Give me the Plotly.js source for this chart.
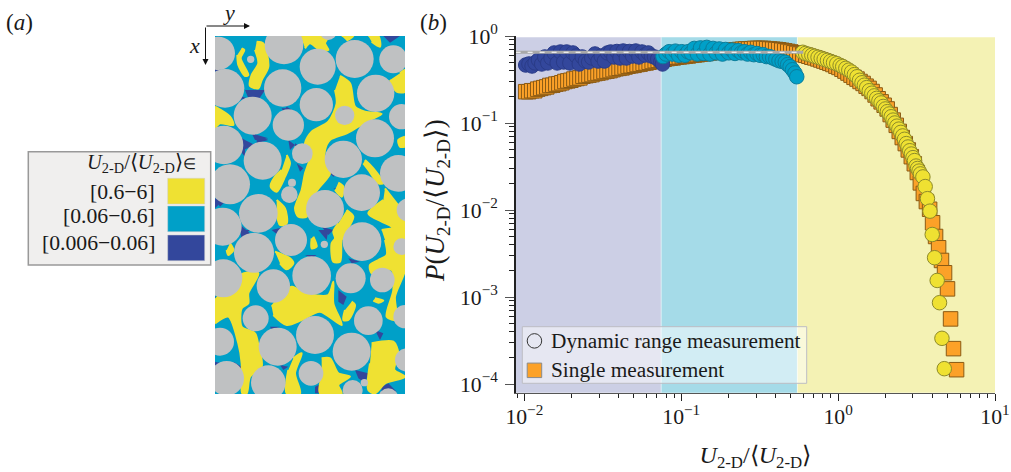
<!DOCTYPE html>
<html><head><meta charset="utf-8">
<script src="https://cdn.plot.ly/plotly-3.0.1.min.js"></script>
<style>html,body{margin:0;padding:0;background:#fff}</style></head>
<body><div id="chart" style="width:1011px;height:472px"></div>
<script>
// ---------- panel (b) data ----------
const xSingle=[.0102,.01066,.01114,.01165,.01217,.01272,.0133,.0139,.01453,.01518,
.01587,.01659,.01734,.01812,.01894,.0198,.02069,.02163,.02261,.02363,
.0247,.02581,.02698,.0282,.02947,.0308,.03219,.03365,.03517,.03676,
.03842,.04016,.04197,.04387,.04585,.04792,.05009,.05235,.05472,.05719,
.05978,.06248,.0653,.06825,.07134,.07456,.07793,.08146,.08514,.08899,
.09301,.09721,.1016,.1062,.111,.116,.1213,.1267,.1325,.1385,
.1447,.1513,.1581,.1652,.1727,.1805,.1887,.1972,.2061,.2155,
.2252,.2354,.246,.2571,.2688,.2809,.2936,.3069,.3208,.3353,
.3504,.3663,.3828,.4001,.4182,.4371,.4569,.4775,.4991,.5217,
.5453,.5699,.5957,.6226,.6507,.6801,.7109,.743,.7766,.8117,
.8484,.8868,.9269,.9688,1.0126,1.058,1.106,1.156,1.209,1.263,
1.32,1.38,1.443,1.508,1.576,1.647,1.722,1.8,1.881,1.966,
2.055,2.148,2.245,2.347,2.453,2.564,2.68,2.801,2.928,3.06,
3.198,3.343,3.494,3.652,3.83,4.0,4.18,4.37,4.56,4.77,
4.98,5.21,5.44,5.69];
const ySingle=[.229,.229,.235,.235,.245,.25,.255,.26,.27,.272,
.28,.283,.29,.30,.305,.31,.32,.325,.33,.345,
.35,.355,.36,.37,.375,.38,.39,.395,.40,.41,
.42,.425,.43,.44,.45,.455,.46,.47,.475,.485,
.49,.50,.51,.52,.525,.535,.54,.55,.555,.56,
.57,.575,.58,.585,.59,.60,.605,.61,.62,.625,
.63,.64,.645,.65,.66,.665,.67,.675,.68,.69,
.695,.70,.705,.71,.71,.715,.72,.72,.72,.72,
.715,.71,.705,.70,.695,.685,.675,.665,.655,.64,
.63,.62,.61,.60,.585,.57,.56,.545,.53,.515,
.50,.485,.47,.45,.435,.415,.395,.375,.355,.335,
.32,.30,.285,.265,.25,.23,.21,.19,.175,.16,
.145,.125,.108,.094,.08,.068,.058,.049,.041,.034,
.027,.0205,.0155,.0125,.0102,.00713,.00496,.00368,.00263,.0019,
.00124,.00056,.000255,.000146];
const xLow=[.0102,.0107,.0112,.0117,.0123,.0129,.0135,.0141,.0148,.0155,
.0162,.0170,.0178,.0186,.0195,.0204,.0214,.0224,.0234,.0245,
.0257,.0269,.0282,.0295,.0309,.0324,.0339,.0355,.0372,.0389,
.0407,.0427,.0447,.0468,.0490,.0513,.0537,.0562,.0589,.0617,
.0646,.0676,.0708,.0741,.0760];
const yLow=[.464,.477,.452,.490,.530,.477,.574,.490,.559,.638,
.490,.655,.503,.655,.490,.638,.589,.477,.574,.516,
.503,.559,.621,.516,.589,.516,.638,.655,.574,.664,
.559,.672,.559,.664,.589,.672,.574,.655,.605,.638,
.589,.574,.544,.503,.477];
const xMid=[.0765,.0800,.0838,.0877,.0919,.0962,.1007,.1054,.1104,.1156,
.1211,.1268,.1327,.1390,.1455,.1524,.1596,.1671,.1749,.1832,
.1918,.2009,.2103,.2202,.2306,.2415,.2529,.2648,.2773,.2904,
.3040,.3184,.3334,.3491,.3656,.3828,.4009,.4198,.4396,.4603,
.4770,.4943,.5122,.5307,.5450];
const yMid=[.58,.62,.66,.62,.67,.60,.66,.60,.66,.64,
.72,.62,.73,.63,.74,.62,.72,.64,.71,.62,
.70,.64,.69,.63,.68,.64,.66,.62,.65,.61,
.63,.60,.61,.58,.58,.56,.54,.52,.51,.50,
.47,.445,.41,.375,.34];
const xHigh=[.595,.62,.65,.68,.71,.745,.78,.815,.855,.895,
.935,.98,1.03,1.07,1.12,1.17,1.22,1.27,1.32,1.37,
1.42,1.47,1.52,1.58,1.64,1.70,1.76,1.82,1.88,1.94,
2.0,2.06,2.12,2.18,2.24,2.30,2.37,2.44,2.51,2.58,
2.65,2.72,2.79,2.86,2.93,3.0,3.07,3.14,3.21,3.28,
3.35,3.47,3.59,3.71,3.85,3.98,4.12,4.28,4.43,4.59,4.75];
const yHigh=[.65,.63,.615,.60,.585,.57,.555,.54,.525,.51,
.495,.48,.46,.445,.425,.405,.385,.36,.34,.31,
.29,.272,.255,.235,.22,.205,.192,.18,.17,.155,
.145,.135,.127,.118,.108,.10,.092,.085,.078,.071,
.065,.058,.053,.048,.044,.04,.037,.032,.03,.028,
.026,.024,.0186,.0135,.0097,.00523,.00283,.00155,.00086,.000335,.00015];
const xRef=[.0088,.6], yRef=[.65,.65];
const regionEdges=[.00881,.0745,.55,10];
const regionColours=['#cccfe5','#a5dbe8','#f4f2b4'];
const xTicks=[.01,.1,1,10], xTickText=['10<sup>−2</sup>','10<sup>−1</sup>','10<sup>0</sup>','10<sup>1</sup>'];
const yTicks=[.0001,.001,.01,.1,1], yTickText=['10<sup>−4</sup>','10<sup>−3</sup>','10<sup>−2</sup>','10<sup>−1</sup>','10<sup>0</sup>'];
const xMinor=[.009,.02,.03,.04,.05,.06,.07,.08,.09,.2,.3,.4,.5,.6,.7,.8,.9,2,3,4,5,6,7,8,9];
const yMinor=[.0002,.0003,.0004,.0005,.0006,.0007,.0008,.0009,.002,.003,.004,.005,.006,.007,.008,.009,.02,.03,.04,.05,.06,.07,.08,.09,.2,.3,.4,.5,.6,.7,.8,.9];
const legendLabels=['Dynamic range measurement','Single measurement'];
// ---------- panel (a) data (map coordinates) ----------
const grainX=[655,852,953,1064,1180,675,848,949,1127,758,865,1034,1205,1125,672,788,907,1030,1195,690,876,868,975,1085,775,1086,668,873,762,973,1205,752,985,
670,935,1052,1147,820,767,1105,945,833,1055,1215,660,1220,680,805,933,1058,1093,1165,1225];
const grainY=[160,135,200,177,178,265,264,314,280,347,375,346,350,415,435,482,461,478,520,553,548,584,627,578,640,725,680,720,758,733,740,178,95,
835,827,835,840,858,955,962,1005,1040,1055,950,1025,1080,1135,1148,1120,1170,1148,1195,630];
const grainR=[50,58,54,57,42,58,56,50,56,57,47,29,38,57,58,57,31,56,55,60,12,25,57,55,58,58,57,48,60,11,25,11,25,
57,58,45,37,50,39,43,57,57,57,35,42,35,52,52,37,30,11,30,35];
const yellowX=[770,790,805,785,775,750,755,775,765,null,725,733,722,745,735,715,712,null,
902,985,975,985,960,930,915,null,1025,1060,1040,null,1105,1135,1140,1115,null,
1020,1050,1065,1095,1145,1110,1075,1040,990,975,975,990,960,930,920,895,885,905,915,930,915,935,985,1010,1005,null,
645,690,700,660,645,null,860,870,855,830,812,825,845,null,830,855,860,840,830,null,
1095,1120,1150,1135,1105,1090,null,1155,1190,1215,1215,1195,1175,1145,1105,1150,null,
1040,1060,1035,1025,1020,1000,995,1005,1000,1015,null,1015,1030,1025,1005,null,
940,950,935,935,null,690,700,685,680,null,825,870,880,860,840,null,
645,730,775,745,745,725,725,765,775,785,750,740,727,725,715,685,645,null,
815,875,915,985,1000,1000,1025,960,905,860,820,null,1055,1065,1045,1030,1035,null,
1125,1150,1135,1120,null,1115,1180,1195,1183,1215,1155,1125,1105,1110,null,
1145,1215,1215,1185,1190,1160,1180,1175,1115,1110,1135,1160,1155,null,
965,990,1015,1050,1015,1025,960,965,null,880,905,885,900,860,865,null,
1200,1215,1215,1190,1170,null,1215,1195,1200,1215];
const yellowY=[125,130,200,240,265,258,225,190,150,null,145,150,175,225,228,195,165,null,
108,108,130,150,150,130,145,null,108,108,122,null,108,108,140,125,null,
228,250,320,335,342,360,380,400,420,450,490,520,560,600,650,650,625,570,520,470,430,395,365,310,270,null,
320,350,375,370,385,null,465,490,530,575,560,530,510,null,600,625,670,675,640,null,
480,505,550,550,510,490,null,565,610,640,700,720,680,665,640,600,null,
630,650,700,720,785,785,730,715,695,670,null,548,560,590,570,null,
710,740,745,715,null,730,750,765,750,null,755,775,790,808,790,null,
900,820,820,880,910,925,980,1000,1035,1100,1130,1180,1180,1090,1030,950,970,null,
920,860,880,885,845,910,975,935,960,975,945,null,905,915,960,960,930,null,
895,902,908,902,null,1030,1025,1060,1110,1130,1150,1180,1170,1090,null,
690,690,810,890,960,950,870,810,820,795,780,765,720,null,
1075,1075,1120,1130,1155,1180,1180,1130,null,1075,1060,1120,1180,1180,1110,null,
220,210,275,275,240,null,410,420,440,440];
const navyX=[735,795,775,745,null,770,805,770,null,700,735,735,710,null,645,660,645,null,645,665,645,null,
715,750,725,null,860,885,850,null,1150,1200,1170,null,885,900,885,null,1000,1040,1030,null,965,1000,985,null,
1015,1040,1030,1015,null,945,975,980,945,null,1065,1105,1095,1075,null,1145,1165,1190,1145,null,
810,840,815,null,700,725,715,null,645,665,645,null,840,865,850,null,915,950,935,null,725,750,735,null,
955,985,980,null,1045,1080,1055,null,1140,1170,1155,null,1125,1150,1140,null,645,675,655,null,
715,740,720,null,845,860,850,null,645,675,645,null,755,805,765,null,735,765,730,null,645,675,660,null,
865,885,870,null,890,910,900,null,985,1015,1000,null,815,855,840];
const navyY=[270,270,300,295,null,405,420,430,null,400,420,470,440,null,595,610,625,null,195,210,215,null,
670,700,715,null,320,335,335,null,108,108,128,null,430,440,445,null,565,560,575,null,680,690,705,null,
870,890,915,905,null,1160,1145,1180,1180,null,1110,1120,1150,1135,null,1160,1150,1175,1180,null,
980,980,990,null,1085,1100,1115,null,1085,1090,1100,null,1095,1100,1110,null,765,765,775,null,690,690,702,null,
690,690,720,null,775,785,790,null,775,795,810,null,990,1000,1020,null,890,895,905,null,
285,295,300,null,325,325,335,null,195,205,210,null,400,415,420,null,420,435,450,null,595,605,620,null,
420,435,450,null,490,505,515,null,515,520,530,null,690,680,710];
const mapBins=['[0.6−6]','[0.06−0.6]','[0.006−0.06]'];
const mapColours=['#efe132','#00a0c8','#33479c'];

// ---------- layout helpers ----------
const W=1011,H=472, PX=x=>x/W, PY=y=>1-y/H;
const SER='"Liberation Serif","Times New Roman",serif';
const U='<i>U</i><sub>2-D</sub>';
const LABEL=U+'/⟨'+U+'⟩';
const txt=(s,x,y,anchor,size,extra)=>Object.assign({text:s,xref:'paper',yref:'paper',x:PX(x),y:PY(y),xanchor:anchor,yanchor:'middle',showarrow:false,font:{family:SER,size:size||20,color:'#1a1a1a'}},extra||{});
const pRect=(x0,y0,x1,y1,fill,line,w)=>({type:'rect',xref:'paper',yref:'paper',x0:PX(x0),x1:PX(x1),y0:PY(y0),y1:PY(y1),fillcolor:fill,line:{color:line||fill,width:w||0},layer:'above'});

const shapes=[];
regionColours.forEach((c,i)=>shapes.push({type:'rect',xref:'x',yref:'y domain',x0:regionEdges[i],x1:regionEdges[i+1],y0:0,y1:0.9965,fillcolor:c,line:{width:0},layer:'below'}));
[1,2].forEach(i=>shapes.push({type:'line',xref:'x',yref:'y domain',x0:regionEdges[i],x1:regionEdges[i],y0:0,y1:0.9965,line:{color:'rgba(255,255,255,0.5)',width:1},layer:'below'}));
shapes.push({type:'rect',xref:'paper',yref:'paper',x0:PX(522.3),x1:PX(806.7),y0:PY(326.7),y1:PY(383.3),fillcolor:'rgba(255,255,255,0.5)',line:{color:'#bdbdc4',width:1},layer:'below'});
shapes.push({type:'rect',xref:'x2',yref:'y2',x0:645,x1:1215,y0:108,y1:1182,fillcolor:mapColours[1],line:{width:0},layer:'below'});
shapes.push(pRect(28.3,151.7,210.7,265,'#f0efee','#999999',1.5));
mapColours.forEach((c,i)=>{const t=[178.3,206,235][i];shapes.push(pRect(167.7,t,204.7,t+25.7,c,'#cfcfcf',0.5));});

const annotations=[
 txt('(<i>a</i>)',3.5,23,'left',23),
 txt('(<i>b</i>)',417.5,23,'left',23),
 txt('<i>y</i>',229,12,'center',22),
 txt('<i>x</i>',194,46,'center',22),
 txt(U+'/⟨'+U+'⟩<span style="font-size:15px">∈</span>',198,164,'right',20.5),
 txt(mapBins[0],156.7,192,'right',21.7),
 txt(mapBins[1],156.7,216,'right',21.7),
 txt(mapBins[2],156.7,243,'right',21.7),
 txt('<i>P</i>('+LABEL+')',437,201,'center',27,{textangle:-90}),
 txt(legendLabels[0],549,341,'left',21.3),
 txt(legendLabels[1],549,370,'left',21.3),
 {xref:'paper',yref:'paper',axref:'pixel',ayref:'pixel',x:PX(250),y:PY(26),ax:-45,ay:0,showarrow:true,arrowhead:2,arrowsize:1.2,arrowwidth:1,arrowcolor:'#111',text:''},
 {xref:'paper',yref:'paper',axref:'pixel',ayref:'pixel',x:PX(205.5),y:PY(65),ax:0,ay:-39,showarrow:true,arrowhead:2,arrowsize:1.2,arrowwidth:1,arrowcolor:'#111',text:''}
];

const mk=(x,y,sym,fill,line)=>({x,y,mode:'markers',type:'scatter',showlegend:false,hoverinfo:'skip',cliponaxis:false,marker:{symbol:sym,size:14.5,opacity:1,color:fill,line:{color:line,width:1}}});
const traces=[
 mk(xSingle,ySingle,'square','#fca128','#8a5a14'),
 mk(xHigh,yHigh,'circle','#efe132','#8d8a2a'),
 mk(xLow,yLow,'circle','#33479c','#2a3c88'),
 mk(xMid,yMid,'circle','#00a0c8','#0b7d9b'),
 {x:xRef,y:yRef,mode:'lines',type:'scatter',showlegend:false,hoverinfo:'skip',line:{color:'#a9a9a9',width:3}},
 {x:xRef,y:yRef,mode:'lines',type:'scatter',showlegend:false,hoverinfo:'skip',line:{color:'#ffffff',width:1,dash:'5px,7px'}},
 mk([.0116],[3.13e-4],'circle','rgba(255,255,255,0)','#333'),
 mk([.0116],[1.436e-4],'square','#fca128','#8a8a8a'),
 {x:navyX,y:navyY,xaxis:'x2',yaxis:'y2',mode:'lines',type:'scatter',fill:'toself',fillcolor:mapColours[2],line:{width:0,color:mapColours[2]},showlegend:false,hoverinfo:'skip'},
 {x:yellowX,y:yellowY,xaxis:'x2',yaxis:'y2',mode:'lines',type:'scatter',fill:'toself',fillcolor:mapColours[0],line:{width:2,color:mapColours[0],shape:'spline',smoothing:0.8},showlegend:false,hoverinfo:'skip'},
 {x:grainX,y:grainY,xaxis:'x2',yaxis:'y2',mode:'markers',type:'scatter',showlegend:false,hoverinfo:'skip',marker:{symbol:'circle',color:'#bfc1c2',opacity:1,size:grainR.map(r=>r*2/3),sizemode:'diameter',line:{width:0}}}
];
const tickFont={family:SER,size:21.7,color:'#1a1a1a'};
const layout={
 width:W,height:H,margin:{l:0,r:0,t:0,b:0},paper_bgcolor:'#fff',plot_bgcolor:'rgba(0,0,0,0)',showlegend:false,
 xaxis:{type:'log',domain:[PX(515.7),PX(995)],range:[-2.055,1],tickmode:'array',tickvals:xTicks,ticktext:xTickText,ticks:'outside',ticklen:7,tickwidth:1,tickcolor:'#222',tickfont:tickFont,ticklabelstandoff:-3,showgrid:false,zeroline:false,showline:true,linecolor:'#555',linewidth:1.5,anchor:'y',
  minor:{ticks:'outside',ticklen:4,tickwidth:1,tickcolor:'#222',tickmode:'array',tickvals:xMinor,showgrid:false},
  title:{text:LABEL,font:{family:SER,size:24,color:'#1a1a1a'},standoff:19}},
 yaxis:{type:'log',domain:[PY(392.7),PY(36)],range:[-4.1,0],tickmode:'array',tickvals:yTicks,ticktext:yTickText,ticks:'outside',ticklen:9,tickwidth:1,tickcolor:'#555',tickfont:tickFont,ticklabelstandoff:3,showgrid:false,zeroline:false,showline:true,linecolor:'#222',linewidth:1.5,anchor:'x',
  minor:{ticks:'outside',ticklen:5,tickwidth:1,tickcolor:'#222',tickmode:'array',tickvals:yMinor,showgrid:false}},
 xaxis2:{domain:[PX(215),PX(405)],range:[645,1215],visible:false,anchor:'y2',fixedrange:true},
 yaxis2:{domain:[PY(394),PY(36)],range:[1182,108],visible:false,anchor:'x2',fixedrange:true},
 shapes,annotations
};
Plotly.newPlot('chart',traces,layout,{displayModeBar:false,staticPlot:true});
</script></body></html>
